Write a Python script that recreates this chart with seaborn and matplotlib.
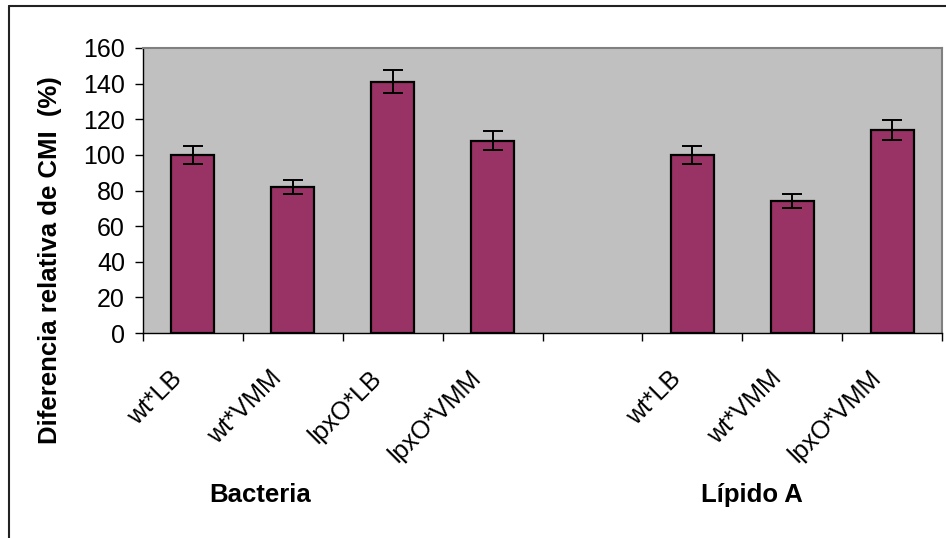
import matplotlib
matplotlib.use('agg')
import matplotlib.pyplot as plt
import matplotlib.transforms as mtransforms
from matplotlib.lines import Line2D
import seaborn as sns
import numpy as np
import pandas as pd

# data
groups = ["Bacteria", "Lípido A"]
bacteria_labels = ["wt*LB", "wt*VMM", "lpxO*LB", "lpxO*VMM"]
bacteria_values = [100, 82, 141, 108]
bacteria_err = [5, 4, 6.5, 5.5]
lipido_labels = ["wt*LB", "wt*VMM", "lpxO*VMM"]
lipido_values = [100, 74, 114]
lipido_err = [5, 4, 5.5]

sns.set_style("white")
plt.rcParams['font.family'] = ['Liberation Sans', 'DejaVu Sans']
plt.rcParams['text.color'] = 'black'
plt.rcParams['xtick.color'] = 'black'
plt.rcParams['ytick.color'] = 'black'
plt.rcParams['axes.labelcolor'] = 'black'

keys = ["B " + l for l in bacteria_labels] + ["L " + l for l in lipido_labels]
df = pd.DataFrame({
    "key": keys,
    "value": bacteria_values + lipido_values,
    "err": bacteria_err + lipido_err,
})
order = keys[:4] + ["gap"] + keys[4:]
tick_labels = bacteria_labels + [""] + lipido_labels

fig = plt.figure(figsize=(9.46, 5.38), dpi=100)
ax = fig.add_axes([0.1512, 0.381, 0.8446, 0.5298])
ax.set_facecolor("#C0C0C0")

sns.barplot(data=df, x="key", y="value", order=order, color="#993366",
            saturation=1, edgecolor="black", linewidth=1.6, width=0.43,
            errorbar=None, ax=ax)

xpos = [order.index(k) for k in df["key"]]
ax.errorbar(xpos, df["value"], yerr=df["err"], fmt="none", ecolor="black",
            elinewidth=1.4, capsize=7.5, capthick=1.4, zorder=5)

ax.set_xlim(-0.5, len(order) - 0.5)
ax.set_ylim(0, 160)
ax.set_yticks(np.arange(0, 161, 20))
ax.set_xticks(np.arange(-0.5, len(order), 1), minor=True)
ax.tick_params(axis="x", which="major", length=0, pad=30)
ax.tick_params(axis="x", which="minor", length=6, width=1, color="black",
               direction="out", bottom=True)
ax.tick_params(axis="y", length=6, width=1, color="black", direction="out",
               left=True, labelsize=18, pad=7)
ax.set_xticks(range(len(order)))
ax.set_xticklabels(tick_labels, rotation=45, ha="right", va="center",
                   rotation_mode="anchor", fontsize=18)
ax.set_xlabel("")

# nudge the slanted labels left, like the original
shift = mtransforms.ScaledTranslation(-15 / 100, 0, fig.dpi_scale_trans)
for tick in ax.xaxis.get_major_ticks():
    tick.label1.set_transform(tick.label1.get_transform() + shift)

ax.set_ylabel("Diferencia relativa de CMI  (%)", fontsize=18.5, fontweight="bold")
ax.yaxis.set_label_coords(-0.101, 0.256)

for s in ["left", "bottom"]:
    ax.spines[s].set_color("black")
    ax.spines[s].set_linewidth(1)
for s in ["top", "right"]:
    ax.spines[s].set_color("#808080")
    ax.spines[s].set_linewidth(1.5)

trans = mtransforms.blended_transform_factory(ax.transData, ax.transAxes)
ax.text(0.67, -0.568, groups[0], transform=trans, ha="center", va="center",
        fontsize=18.5, fontweight="bold")
ax.text(5.6, -0.568, groups[1], transform=trans, ha="center", va="center",
        fontsize=18.5, fontweight="bold")

# chart frame (cut off on right and bottom)
fig.add_artist(Line2D([0.0100, 0.0100], [0.0, 0.9888], transform=fig.transFigure,
                      color="#222222", linewidth=1.5))
fig.add_artist(Line2D([0.0100, 1.0], [0.9888, 0.9888], transform=fig.transFigure,
                      color="#222222", linewidth=1.5))

fig.savefig("out.png", dpi=100)
plt.close()
